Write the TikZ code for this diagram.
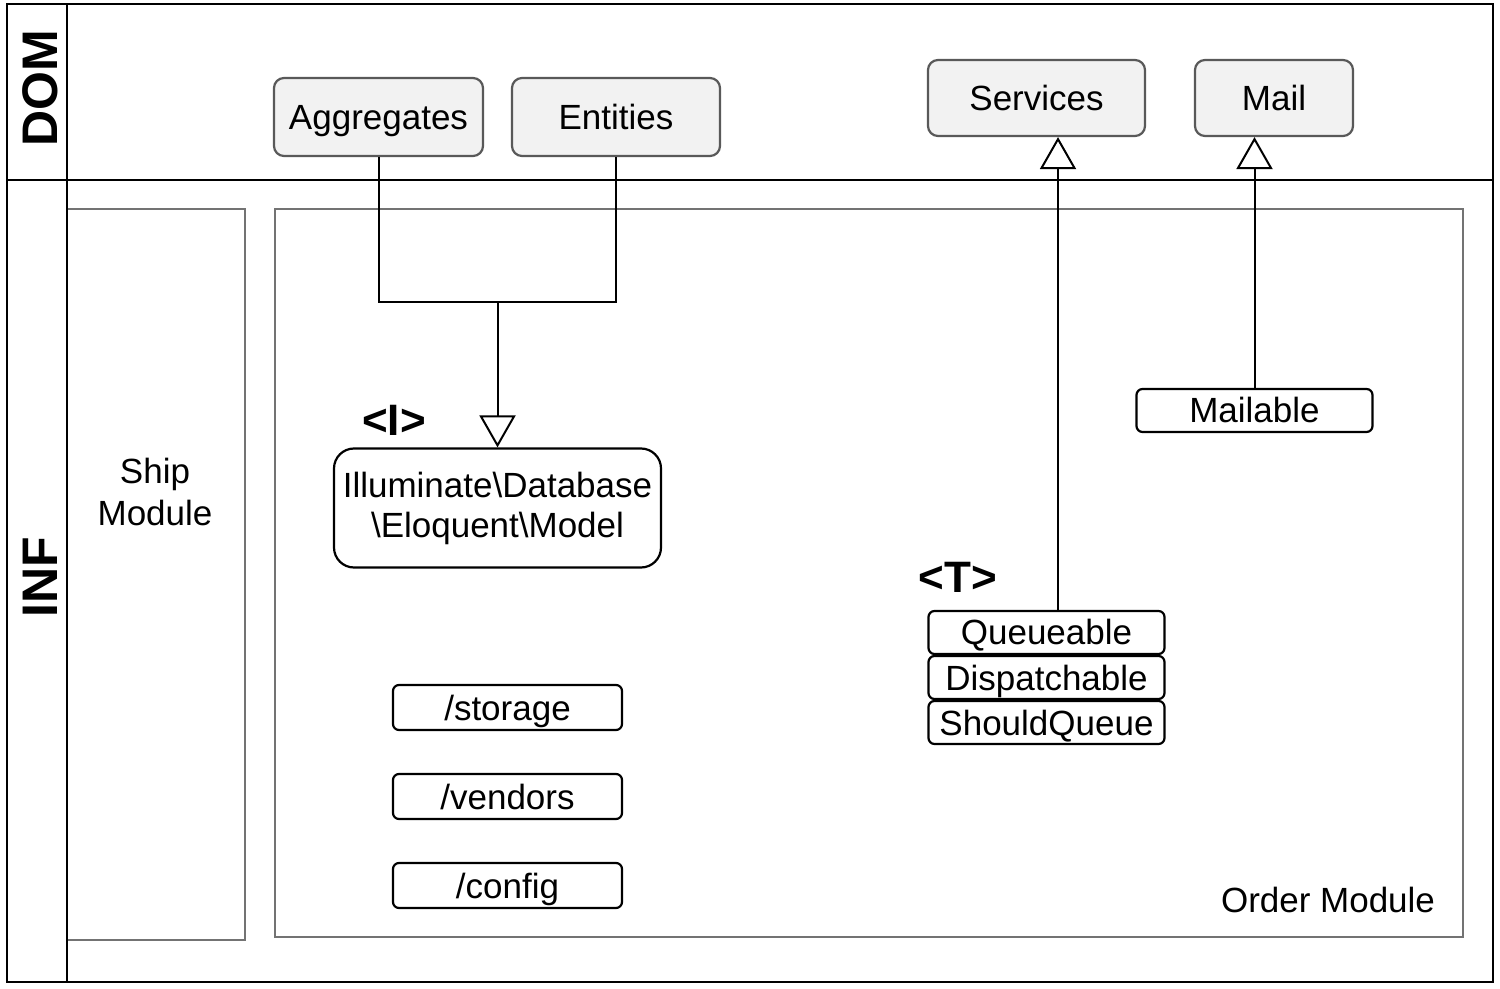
\documentclass[tikz,border=0pt]{standalone}
\usepackage{fontspec}
\setmainfont{Liberation Sans}
\usetikzlibrary{arrows.meta}
\begin{document}
\begin{tikzpicture}[x=0.5pt,y=-0.5pt,
  frame/.style={draw=black,line width=1.4pt},
  modbox/.style={draw=gray!90!black,line width=1.3pt},
  dombox/.style={draw=black!65,fill=black!5,line width=1.1pt,rounded corners=5pt,
    inner sep=0pt,text height=13pt,text depth=0.5pt,font=\fontsize{17.5pt}{21pt}\selectfont},
  infbox/.style={draw=black,fill=white,line width=1.1pt,rounded corners=3pt,
    inner sep=0pt,minimum width=118pt,minimum height=21.5pt,text height=13pt,text depth=0.5pt,
    font=\fontsize{17.5pt}{21pt}\selectfont},
  lane/.style={font=\bfseries\fontsize{25pt}{30pt}\selectfont,rotate=90},
  tag/.style={font=\bfseries\fontsize{22pt}{26pt}\selectfont,inner sep=0pt},
  lbl/.style={font=\fontsize{17.5pt}{21pt}\selectfont,align=center,inner sep=0pt},
  conn/.style={draw=black,line width=1pt},
  uml/.style={conn,-{Triangle[open,length=16pt,width=18pt,fill=white]}}]
\useasboundingbox (0,0) rectangle (1500,989);
% modules
\draw[modbox] (67,209) rectangle (245,940);
\draw[modbox] (275,209) rectangle (1463,937);
\node[lbl] (ship) at (155,492) {Ship\\Module};
\node[lbl] (order) at (1328,900) {Order Module};
% lanes
\draw[frame] (7,4) rectangle (1493,982);
\draw[frame] (67,4) -- (67,982);
\draw[frame] (7,180) -- (1493,180);
\node[lane] (dom) at (40,88) {DOM};
\node[lane] (inf) at (40,577) {INF};
% domain nodes
\node[dombox,minimum width=104.5pt,minimum height=39pt] (agg) at (378.5,117) {Aggregates};
\node[dombox,minimum width=104pt,minimum height=39pt] (ent) at (616,117) {Entities};
\node[dombox,minimum width=108.5pt,minimum height=38pt] (serv) at (1036.5,98) {Services};
\node[dombox,minimum width=79pt,minimum height=38pt] (mail) at (1274,98) {Mail};
% infrastructure nodes
\node[draw=black,fill=white,line width=1.1pt,rounded corners=10pt,inner sep=0pt,
  minimum width=163.5pt,minimum height=59.5pt,align=center,
  font=\fontsize{17.5pt}{20pt}\selectfont] (ill) at (497.5,508)
  {Illuminate\textbackslash Database\\\textbackslash Eloquent\textbackslash Model};
\node[tag] (itag) at (394,420) {<I>};
\node[infbox] (mailable) at (1254.5,410.5) {Mailable};
\node[infbox] (queue) at (1046.5,632.5) {Queueable};
\node[infbox] (disp) at (1046.5,677.5) {Dispatchable};
\node[infbox] (should) at (1046.5,722.5) {ShouldQueue};
\node[tag] (ttag) at (958,577) {<T>};
\node[infbox,minimum width=114.5pt,minimum height=22.5pt] (storage) at (507.5,707.5) {/storage};
\node[infbox,minimum width=114.5pt,minimum height=22.5pt] (vendors) at (507.5,796.5) {/vendors};
\node[infbox,minimum width=114.5pt,minimum height=22.5pt] (config) at (507.5,885.5) {/config};
% connectors
\coordinate (join) at (497.5,302);
\coordinate (sx) at (1058,0);
\draw[conn] (agg.south) |- (join) -| (ent.south);
\draw[uml] (join) -- (ill.north);
\draw[uml] (sx |- queue.north) -- (sx |- serv.south);
\draw[uml] (mailable.north) -- (mailable.north |- mail.south);
\end{tikzpicture}
\end{document}
